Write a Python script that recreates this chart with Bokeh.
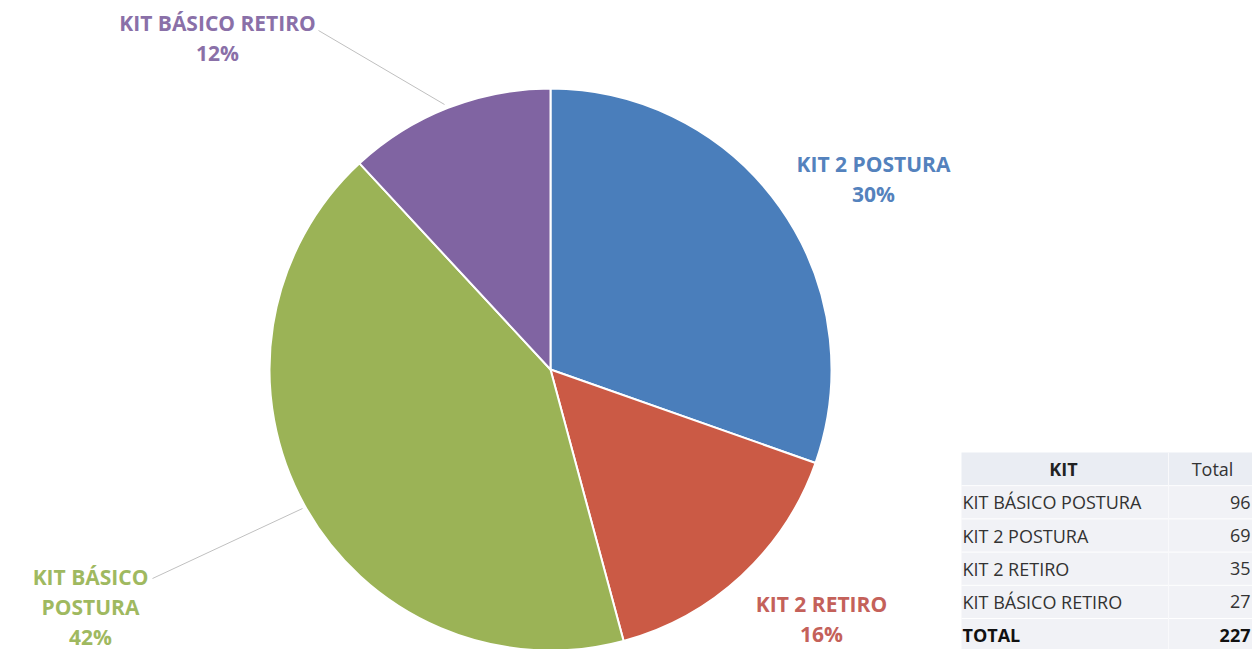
import math
from bokeh.plotting import figure
from bokeh.models import Range1d, ColumnDataSource
from bokeh.core.properties import value
from bokeh.embed import file_html
from bokeh.resources import INLINE

# ---- data ----
pie_kits = ["KIT 2 POSTURA", "KIT 2 RETIRO", "KIT BÁSICO POSTURA", "KIT BÁSICO RETIRO"]
pie_values = [69, 35, 96, 27]
pie_colors = ["#4a7ebb", "#cb5a45", "#9bb356", "#8064a2"]
label_colors = ["#5482bd", "#c4615a", "#9fb960", "#8a70a8"]

table_kits = ["KIT BÁSICO POSTURA", "KIT 2 POSTURA", "KIT 2 RETIRO", "KIT BÁSICO RETIRO"]
table_totals = [96, 69, 35, 27]
table_header = ["KIT", "Total"]
total_label = "TOTAL"

FONT = "Open Sans"
W, H = 1252, 649
p = figure(width=W, height=H, output_backend="svg", toolbar_location=None,
           x_range=Range1d(0, W), y_range=Range1d(657 - H, 657),
           min_border=0, outline_line_color=None, background_fill_color="white")
p.axis.visible = False
p.grid.visible = False

def Y(img_y):
    return 657 - img_y

# ---- pie ----
cx, cy, r = 550, Y(369), 281
tot = sum(pie_values)
starts, ends = [], []
cum = 0
for v in pie_values:
    starts.append(math.pi / 2 - 2 * math.pi * cum / tot)
    cum += v
    ends.append(math.pi / 2 - 2 * math.pi * cum / tot)
src = ColumnDataSource(dict(x=[cx] * 4, y=[cy] * 4, s=starts, e=ends, c=pie_colors))
p.wedge(x="x", y="y", radius=r, start_angle="s", end_angle="e", direction="clock",
        fill_color="c", line_color="white", line_width=2, source=src)

# ---- percentages (largest remainder so they sum to 100) ----
raw = [v / tot * 100 for v in pie_values]
fl = [int(math.floor(x)) for x in raw]
rem = 100 - sum(fl)
order = sorted(range(len(raw)), key=lambda i: raw[i] - fl[i], reverse=True)
for i in order[:rem]:
    fl[i] += 1
pct = [f"{x}%" for x in fl]

label_lines = [
    [pie_kits[0], pct[0]],
    [pie_kits[1], pct[1]],
    ["KIT BÁSICO", "POSTURA", pct[2]],
    [pie_kits[3], pct[3]],
]
label_pos = [(873, 163), (821, 603), (90, 576), (217, 22)]
for lines, (lx, ly), col in zip(label_lines, label_pos, label_colors):
    xs = [lx] * len(lines)
    ys = [Y(ly + 30 * i) for i in range(len(lines))]
    p.text(x=xs, y=ys, text=lines, text_font=value(FONT), text_font_style="bold",
           text_font_size="21px", text_color=col, text_align="center", text_baseline="middle")

# leader lines
p.line(x=[318, 444], y=[Y(30), Y(104)], line_color="#c0c0c0", line_width=1)
p.line(x=[152, 302], y=[Y(578), Y(508)], line_color="#c0c0c0", line_width=1)

# ---- table ----
tx0, tx1, tdiv = 961, 1252, 1168
top = 452
row_h = 33.2
nrows = 2 + len(table_kits)
TS = "18px"
p.quad(left=tx0, right=tx1, top=Y(top), bottom=Y(top + row_h + 1), fill_color="#eaedf3", line_color=None)
p.quad(left=tx0, right=tx1, top=Y(top + row_h + 1), bottom=Y(top + row_h * nrows), fill_color="#f1f2f6", line_color=None)
for i in range(1, nrows):
    p.line(x=[tx0, tx1], y=[Y(top + row_h * i)] * 2, line_color="white", line_width=1)
p.line(x=[tdiv, tdiv], y=[Y(top), Y(top + row_h * nrows)], line_color="#f9f9fb", line_width=1)

p.text(x=[1063], y=[Y(top + row_h / 2)], text=[table_header[0]], text_font=value(FONT),
       text_font_style="bold", text_font_size=TS, text_color="#222222",
       text_align="center", text_baseline="middle")
p.text(x=[1212], y=[Y(top + row_h / 2)], text=[table_header[1]], text_font=value(FONT),
       text_font_size=TS, text_color="#333333", text_align="center", text_baseline="middle")
ys = [Y(top + row_h * (i + 1.5)) for i in range(len(table_kits))]
p.text(x=[962] * len(table_kits), y=ys, text=table_kits, text_font=value(FONT),
       text_font_size=TS, text_color="#333333", text_align="left", text_baseline="middle")
p.text(x=[1250] * len(table_kits), y=ys, text=[str(t) for t in table_totals], text_font=value(FONT),
       text_font_size=TS, text_color="#333333", text_align="right", text_baseline="middle")
ty = Y(top + row_h * (nrows - 0.5))
p.text(x=[962], y=[ty], text=[total_label], text_font=value(FONT), text_font_style="bold",
       text_font_size=TS, text_color="#111111", text_align="left", text_baseline="middle")
p.text(x=[1250], y=[ty], text=[str(sum(table_totals))], text_font=value(FONT), text_font_style="bold",
       text_font_size=TS, text_color="#111111", text_align="right", text_baseline="middle")

open("out.html", "w").write(file_html(p, INLINE))
